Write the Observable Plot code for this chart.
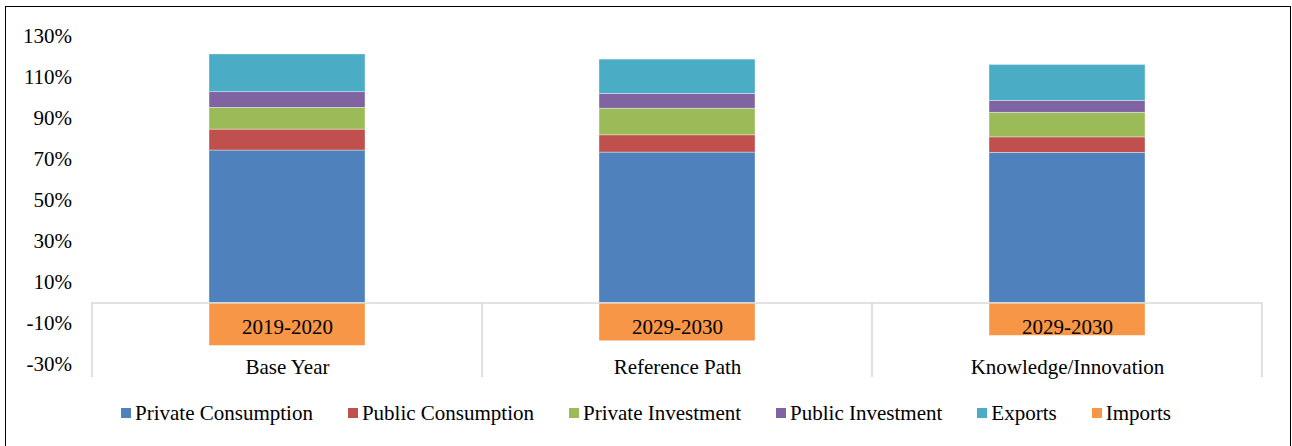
<!DOCTYPE html>
<html>
<head>
<meta charset="utf-8">
<script src="https://cdn.jsdelivr.net/npm/d3@7"></script>
<script src="https://cdn.jsdelivr.net/npm/@observablehq/plot@0.6"></script>
<style>
  html, body { margin: 0; padding: 0; background: #fff; }
  #wrap { position: relative; width: 1292px; height: 446px; overflow: hidden; font-family: "Liberation Serif", "Times New Roman", serif; }
  #border { position: absolute; left: 5px; top: 6px; width: 1286px; height: 444px; border: 1.5px solid #000; box-sizing: border-box; pointer-events: none; }
  #chart { position: absolute; left: 0; top: 0; }
  #legend { position: absolute; left: 0; top: 401px; width: 1292px; display: flex; justify-content: center; align-items: center; gap: 35px; font-size: 21px; color: #000; }
  .item { display: flex; align-items: center; white-space: nowrap; }
  .sw { width: 10px; height: 10px; margin-right: 4px; margin-top: -2px; }
</style>
</head>
<body>
<div id="wrap">
  <div id="chart"></div>
  <div id="legend"></div>
  <div id="border"></div>
</div>
<script>
// ---- Data (% of GDP) ----
const scenarios = ["Base Year", "Reference Path", "Knowledge/Innovation"];
const periods = ["2019-2020", "2029-2030", "2029-2030"];
const seriesNames = ["Private Consumption", "Public Consumption", "Private Investment", "Public Investment", "Exports", "Imports"];
const seriesColors = ["#4F81BD", "#C0504D", "#9BBB59", "#8064A2", "#4BACC6", "#F79646"];
const privateConsumption = [74.3, 73.3, 73.2];
const publicConsumption = [10.2, 8.4, 7.5];
const privateInvestment = [10.6, 13.0, 12.0];
const publicInvestment = [7.6, 7.2, 5.8];
const exportsShare = [18.4, 16.7, 17.5];
const importsShare = [-20.9, -18.6, -16.0];
const yTicks = [-30, -10, 10, 30, 50, 70, 90, 110, 130];

const seriesValues = [privateConsumption, publicConsumption, privateInvestment, publicInvestment, exportsShare, importsShare];
const rows = [];
seriesNames.forEach((s, i) => {
  scenarios.forEach((c, j) => rows.push({scenario: c, series: s, value: seriesValues[i][j]}));
});
const labels = scenarios.map((c, j) => ({scenario: c, period: periods[j]}));

const chart = Plot.plot({
  width: 1292,
  height: 395,
  marginTop: 35.7,
  marginBottom: 30.9,
  marginLeft: 91.6,
  marginRight: 29.7,
  style: {fontFamily: "'Liberation Serif', 'Times New Roman', serif", fontSize: "21px", color: "#000", background: "transparent"},
  x: {domain: scenarios, paddingInner: 0.6, paddingOuter: 0.3, axis: null},
  y: {domain: [-30, 130], axis: null},
  color: {domain: seriesNames, range: seriesColors},
  marks: [
    Plot.barY(rows, {x: "scenario", y: "value", fill: "series", order: seriesNames, stroke: "#fff", strokeWidth: 0.6, strokeOpacity: 0.6}),
    Plot.ruleY([0], {stroke: "#d9d9d9", strokeWidth: 1.6}),
    Plot.axisY({ticks: yTicks, tickSize: 0, tickPadding: 20, tickFormat: d => d + "%", fontSize: 21, label: null}),
    Plot.text(labels, {x: "scenario", y: () => 0, text: "period", dy: 24.5, fontSize: 21, fill: "#000"}),
    Plot.text(labels, {x: "scenario", y: () => 0, text: "scenario", dy: 64, fontSize: 21, fill: "#000"})
  ]
});

// Category separators (Excel multi-level axis), positioned from Plot's scales
const xs = chart.scale("x"), ys = chart.scale("y");
const step = xs.step;
const x0 = xs.apply(scenarios[0]) - step * xs.paddingOuter; // left band boundary
const yTop = ys.apply(0), yBot = ys.apply(-30) + 13;
const svg = d3.select(chart);
const bounds = d3.range(scenarios.length + 1).map(i => x0 + i * step);
svg.append("g").selectAll("line").data(bounds).join("line")
  .attr("x1", d => d).attr("x2", d => d)
  .attr("y1", yTop).attr("y2", yBot)
  .attr("stroke", "#d9d9d9").attr("stroke-width", 1.6);

document.getElementById("chart").appendChild(chart);

// Legend
const legend = d3.select("#legend");
seriesNames.forEach((s, i) => {
  const it = legend.append("div").attr("class", "item");
  it.append("div").attr("class", "sw").style("background", seriesColors[i]);
  it.append("span").text(s);
});
</script>
</body>
</html>
